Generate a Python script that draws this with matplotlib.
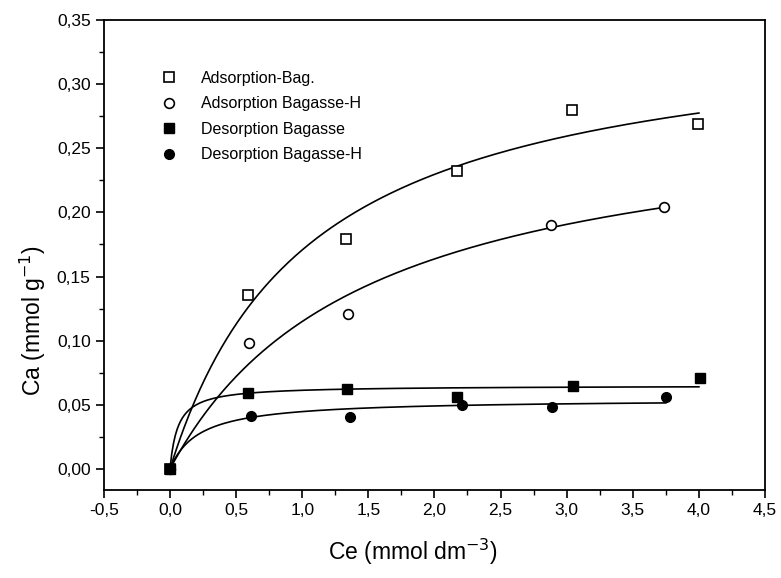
import numpy as np
import matplotlib
matplotlib.use("Agg")
import matplotlib.pyplot as plt
from matplotlib.ticker import MultipleLocator, FuncFormatter

plt.rcParams['font.family'] = ['Liberation Sans', 'DejaVu Sans']

# measured points (Ce, Ca)
ads_bag_ce = [0.0, 0.59, 1.33, 2.17, 3.04, 3.99]
ads_bag_ca = [0.0, 0.136, 0.179, 0.232, 0.280, 0.269]

ads_bagh_ce = [0.0, 0.60, 1.35, 2.88, 3.74]
ads_bagh_ca = [0.0, 0.098, 0.121, 0.190, 0.204]

des_bag_ce = [0.0, 0.59, 1.34, 2.17, 3.05, 4.01]
des_bag_ca = [0.0, 0.059, 0.062, 0.056, 0.065, 0.071]

des_bagh_ce = [0.0, 0.61, 1.36, 2.21, 2.89, 3.75]
des_bagh_ca = [0.0, 0.041, 0.0405, 0.050, 0.048, 0.056]

# Langmuir fit parameters (qmax, K, end of curve)
fit_ads_bag = (0.3505, 0.95, 4.0)
fit_ads_bagh = (0.2843, 0.679, 3.75)
fit_des_bag = (0.065, 16.8, 4.0)
fit_des_bagh = (0.0545, 4.58, 3.75)


def langmuir(c, qmax, k):
    return qmax * k * c / (1 + k * c)


fig = plt.figure(figsize=(7.81, 5.78), dpi=100)
ax = fig.add_axes([0.133, 0.152, 0.8465, 0.8134])

for qmax, k, cend in [fit_ads_bag, fit_ads_bagh, fit_des_bag, fit_des_bagh]:
    c = np.linspace(0, cend, 300)
    ax.plot(c, langmuir(c, qmax, k), color='black', lw=1.2)

ms = 7
ax.plot(ads_bag_ce, ads_bag_ca, 's', mfc='white', mec='black', mew=1.2, ms=ms,
        label='Adsorption-Bag.')
ax.plot(ads_bagh_ce, ads_bagh_ca, 'o', mfc='white', mec='black', mew=1.2, ms=ms,
        label='Adsorption Bagasse-H')
ax.plot(des_bag_ce, des_bag_ca, 's', color='black', ms=ms,
        label='Desorption Bagasse')
ax.plot(des_bagh_ce, des_bagh_ca, 'o', color='black', ms=ms,
        label='Desorption Bagasse-H')

ax.set_xlim(-0.5, 4.5)
ax.set_ylim(-0.0165, 0.35)

ax.xaxis.set_major_locator(MultipleLocator(0.5))
ax.xaxis.set_minor_locator(MultipleLocator(0.25))
ax.yaxis.set_major_locator(MultipleLocator(0.05))
ax.yaxis.set_minor_locator(MultipleLocator(0.025))
ax.xaxis.set_major_formatter(FuncFormatter(lambda v, p: f"{v:.1f}".replace('.', ',')))
ax.yaxis.set_major_formatter(FuncFormatter(lambda v, p: f"{v:.2f}".replace('.', ',')))
ax.tick_params(which='major', direction='out', length=6, width=1.2, labelsize=12.5)
ax.tick_params(which='minor', direction='out', length=3.5, width=1.0)
ax.tick_params(top=False, right=False)
for s in ax.spines.values():
    s.set_linewidth(1.3)

ax.set_xlabel('Ce (mmol dm$^{-3}$)', fontsize=16.5)
ax.set_ylabel('Ca (mmol g$^{-1}$)', fontsize=16.5)
ax.xaxis.set_label_coords(0.468, -0.1)
ax.yaxis.set_label_coords(-0.085, 0.36)

ax.legend(loc='upper left', bbox_to_anchor=(0.065, 0.905), frameon=False,
          fontsize=11.5, handletextpad=1.0, labelspacing=0.65, borderaxespad=0)

fig.savefig('out.png', dpi=100)
